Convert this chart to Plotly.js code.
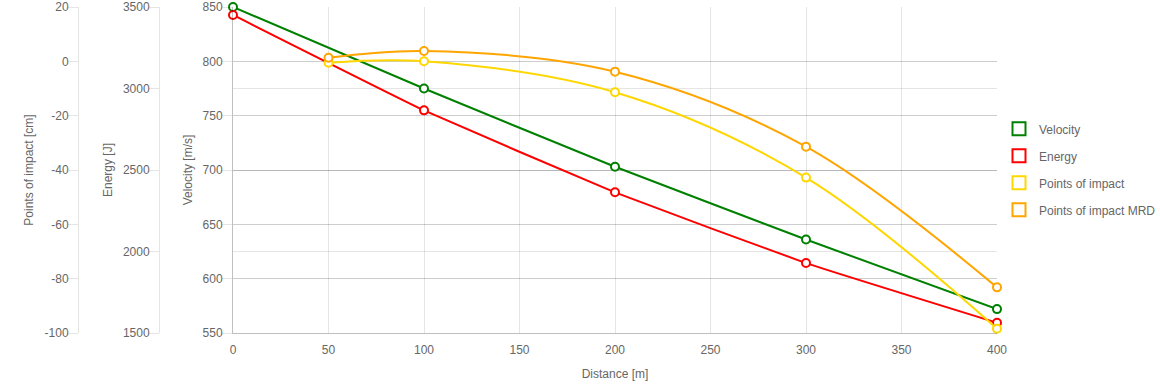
<!DOCTYPE html>
<html>
<head>
<meta charset="utf-8">
<script src="https://cdn.plot.ly/plotly-3.0.1.min.js"></script>
<style>html,body{margin:0;padding:0;background:#fff;}#chart{width:1160px;height:386px;}</style>
</head>
<body>
<div id="chart"></div>
<script>
const distance = [0, 100, 200, 300, 400];
const velocity = [850, 775, 703, 636, 572];
const energy = [3451, 2866, 2363, 1929, 1563];
const poiDistance = [50, 100, 200, 300, 400];
const pointsOfImpact = [-0.5, 0, -11.4, -42.8, -98.4];
const pointsOfImpactMRD = [1.3, 3.8, -3.8, -31.4, -83.2];

const distanceTicks = [0, 50, 100, 150, 200, 250, 300, 350, 400];
const velocityTicks = [550, 600, 650, 700, 750, 800, 850];
const energyTicks = [1500, 2000, 2500, 3000, 3500];
const poiTicks = [-100, -80, -60, -40, -20, 0, 20];

const names = ['Velocity', 'Energy', 'Points of impact', 'Points of impact MRD'];
const colors = ['#008000', '#ff0000', '#ffd700', '#ffa500'];

const txt = '#666';
const font = {family: 'Arial, Liberation Sans, sans-serif', size: 12, color: txt};
const grid = 'rgba(0,0,0,0.1)';
const W = 1160;

function series(x, y, i, axis, smooth) {
  return {
    x: x, y: y, yaxis: axis, name: names[i], showlegend: false,
    mode: 'lines+markers', type: 'scatter', cliponaxis: false,
    line: {color: colors[i], width: 2, shape: 'spline', smoothing: smooth},
    marker: {symbol: 'circle', size: 8, color: '#fff', line: {color: colors[i], width: 2}},
    hoverinfo: 'skip'
  };
}

const data = [
  series(distance, velocity, 0, 'y', 0.3),
  series(distance, energy, 1, 'y2', 0.3),
  series(poiDistance, pointsOfImpact, 2, 'y3', 1),
  series(poiDistance, pointsOfImpactMRD, 3, 'y3', 1)
];
names.forEach((n, i) => {
  data.push({
    x: [null], y: [null], name: n, legendgroup: 'g' + i, showlegend: true,
    mode: 'markers', type: 'scatter',
    marker: {symbol: 'square-open', size: 13, color: colors[i], line: {width: 2, color: colors[i]}}
  });
});

function yAxis(ticks, extra) {
  return Object.assign({
    range: [ticks[0], ticks[ticks.length - 1]],
    tickmode: 'array', tickvals: ticks, ticktext: ticks.map(String),
    side: 'left', showgrid: true, gridcolor: grid, zeroline: false,
    showline: true, linecolor: grid, linewidth: 1,
    ticks: 'outside', ticklen: 10, tickcolor: grid, ticklabelstandoff: -3,
    tickfont: font, automargin: false
  }, extra);
}

const layout = {
  width: 1160, height: 386,
  margin: {l: 0, r: 0, t: 7, b: 53, autoexpand: false},
  paper_bgcolor: '#fff', plot_bgcolor: '#fff',
  font: font,
  showlegend: true,
  legend: {x: 999 / W, xanchor: 'left', y: 0.502, yanchor: 'middle', font: font,
           tracegroupgap: 8, itemwidth: 30, bgcolor: 'rgba(0,0,0,0)'},
  xaxis: {
    domain: [233 / W, 997 / W], range: [0, 400],
    tickmode: 'array', tickvals: distanceTicks, ticktext: distanceTicks.map(String),
    showgrid: true, gridcolor: grid, zeroline: false,
    showline: true, linecolor: 'rgba(0,0,0,0.25)', linewidth: 1,
    ticks: 'outside', ticklen: 6, tickcolor: 'rgba(0,0,0,0)',
    tickfont: font, automargin: false,
    title: {text: 'Distance [m]', font: font, standoff: 13}
  },
  yaxis: yAxis(velocityTicks, {
    anchor: 'x', linecolor: 'rgba(0,0,0,0.25)',
    title: {text: 'Velocity [m/s]', font: font, standoff: 7}
  }),
  yaxis2: yAxis(energyTicks, {
    overlaying: 'y', anchor: 'free', position: 159 / W,
    title: {text: 'Energy [J]', font: font, standoff: 6}
  }),
  yaxis3: yAxis(poiTicks, {
    overlaying: 'y', anchor: 'free', position: 78 / W,
    title: {text: 'Points of impact [cm]', font: font, standoff: 7}
  })
};

Plotly.newPlot('chart', data, layout, {displayModeBar: false, staticPlot: true});
</script>
</body>
</html>
